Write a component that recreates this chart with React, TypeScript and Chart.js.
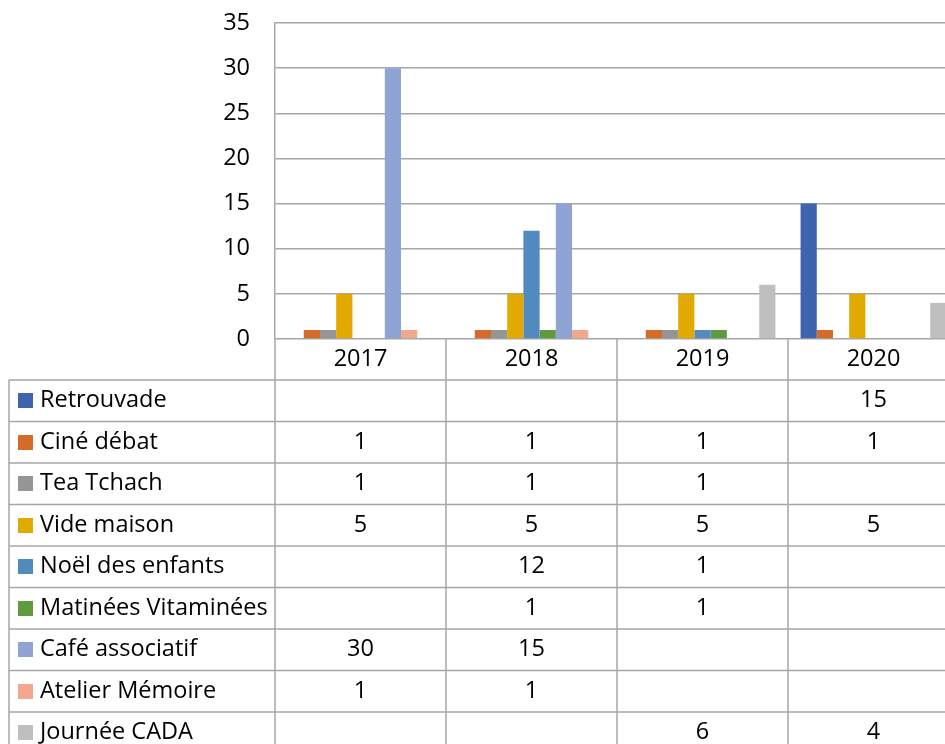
import { useEffect, useRef } from "react";
import { Chart, registerables } from "chart.js";

Chart.register(...registerables);

const categories = ["2017", "2018", "2019", "2020"];
const seriesNames = [
  "Retrouvade",
  "Ciné débat",
  "Tea Tchach",
  "Vide maison",
  "Noël des enfants",
  "Matinées Vitaminées",
  "Café associatif",
  "Atelier Mémoire",
  "Journée CADA",
];
const retrouvade = [null, null, null, 15];
const cineDebat = [1, 1, 1, 1];
const teaTchach = [1, 1, 1, null];
const videMaison = [5, 5, 5, 5];
const noelEnfants = [null, 12, 1, null];
const matineesVitaminees = [null, 1, 1, null];
const cafeAssociatif = [30, 15, null, null];
const atelierMemoire = [1, 1, null, null];
const journeeCada = [null, null, 6, 4];
const seriesValues = [
  retrouvade,
  cineDebat,
  teaTchach,
  videMaison,
  noelEnfants,
  matineesVitaminees,
  cafeAssociatif,
  atelierMemoire,
  journeeCada,
];
const seriesColors = [
  "#3D64AD",
  "#D56B2B",
  "#959595",
  "#E2AA00",
  "#508ABF",
  "#5F9B3E",
  "#8FA4D5",
  "#F2A88C",
  "#BFBFBF",
];
const yMax = 35;
const yStep = 5;

const FONT = "'Open Sans'";
const FONT_SIZE = 23.5;
const GRID = "#A6A6A6";

const tablePlugin = {
  id: "dataTable",
  afterDraw(chart: any) {
    const { ctx, chartArea } = chart;
    const x = chart.scales.x;
    const n = categories.length;
    const catW = (chartArea.right - chartArea.left) / n;
    const headerTop = chartArea.bottom;
    const headerH = 41;
    const rowTop0 = headerTop + headerH;
    const rowH = 41.5;
    const tableLeft = 9;
    const bottom = rowTop0 + rowH * seriesNames.length;
    ctx.save();
    ctx.strokeStyle = GRID;
    ctx.lineWidth = 1.5;
    for (let i = 0; i <= n; i++) {
      const xx = chartArea.left + i * catW;
      ctx.beginPath();
      ctx.moveTo(xx, headerTop);
      ctx.lineTo(xx, bottom);
      ctx.stroke();
    }
    ctx.beginPath();
    ctx.moveTo(tableLeft, rowTop0);
    ctx.lineTo(tableLeft, bottom);
    ctx.stroke();
    for (let r = 0; r <= seriesNames.length; r++) {
      const yy = rowTop0 + r * rowH;
      ctx.beginPath();
      ctx.moveTo(tableLeft, yy);
      ctx.lineTo(chartArea.right, yy);
      ctx.stroke();
    }
    ctx.fillStyle = "#000";
    ctx.font = `${FONT_SIZE}px ${FONT}`;
    ctx.textBaseline = "middle";
    ctx.textAlign = "center";
    categories.forEach((c, i) => {
      ctx.fillText(c, x.getPixelForValue(i), headerTop + headerH / 2);
    });
    seriesNames.forEach((name, r) => {
      const top = rowTop0 + r * rowH;
      const mid = top + rowH / 2;
      ctx.fillStyle = seriesColors[r];
      ctx.fillRect(18, Math.round(mid - 7.5), 15, 15);
      ctx.fillStyle = "#000";
      ctx.textAlign = "left";
      ctx.fillText(name, 40, mid);
      ctx.textAlign = "center";
      seriesValues[r].forEach((v, i) => {
        if (v !== null && v !== undefined) {
          ctx.fillText(String(v), x.getPixelForValue(i), mid);
        }
      });
    });
    ctx.restore();
  },
};

export default function App() {
  const ref = useRef<HTMLCanvasElement | null>(null);
  useEffect(() => {
    if (!ref.current) return;
    const chart = new Chart(ref.current, {
      type: "bar",
      data: {
        labels: categories,
        datasets: seriesNames.map((name, i) => ({
          label: name,
          data: seriesValues[i],
          backgroundColor: seriesColors[i],
          borderWidth: 0,
          categoryPercentage: 0.853,
          barPercentage: 1.0,
        })),
      },
      options: {
        animation: false,
        responsive: false,
        devicePixelRatio: 1,
        layout: { padding: { left: 0, top: 23, right: 41, bottom: 461 } },
        plugins: { legend: { display: false }, tooltip: { enabled: false } },
        scales: {
          x: { display: false },
          y: {
            min: 0,
            max: yMax,
            afterFit(scale: any) {
              scale.width = 275;
              scale.paddingTop = 0;
              scale.paddingBottom = 0;
            },
            ticks: {
              stepSize: yStep,
              padding: 25,
              color: "#000",
              font: { family: FONT, size: FONT_SIZE },
            },
            grid: { color: GRID, lineWidth: 1.5, drawTicks: false },
            border: { display: true, color: GRID, width: 1.5 },
          },
        },
      },
      plugins: [tablePlugin],
    });
    return () => chart.destroy();
  }, []);
  return (
    <div
      style={{
        position: "fixed",
        left: 0,
        top: 0,
        width: 945,
        height: 744,
        overflow: "hidden",
        background: "#fff",
      }}
    >
      <canvas ref={ref} width={1000} height={800} style={{ display: "block" }} />
    </div>
  );
}
